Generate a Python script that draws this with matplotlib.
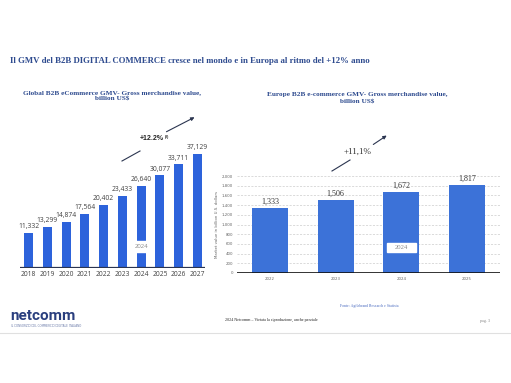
import matplotlib.pyplot as plt
from matplotlib.lines import Line2D
from matplotlib.patches import Rectangle, FancyArrowPatch

W, H = 511, 383

# global data
glob_years = ["2018", "2019", "2020", "2021", "2022", "2023", "2024", "2025", "2026", "2027"]
glob_vals = [11332, 13299, 14874, 17564, 20402, 23433, 26640, 30077, 33711, 37129]
glob_labels = ["11,332", "13,299", "14,874", "17,564", "20,402", "23,433", "26,640", "30,077", "33,711", "37,129"]

# europe data
eu_years = ["2022", "2023", "2024", "2025"]
eu_vals = [1333, 1506, 1672, 1817]
eu_labels = ["1,333", "1,506", "1,672", "1,817"]
eu_ticks = list(range(0, 2001, 200))

navy = "#2E4B8F"

def fx(px):
    return px / W

def fy(py):
    return 1 - py / H

def arrow(x0, y0, x1, y1, x2, y2, x3, y3):
    # broken arrow: plain segment, gap for the label, then arrowhead segment
    fig.add_artist(Line2D([fx(x0), fx(x1)], [fy(y0), fy(y1)], color="#2B3550", lw=0.8))
    fig.add_artist(FancyArrowPatch((fx(x2), fy(y2)), (fx(x3), fy(y3)), transform=fig.transFigure,
                                   arrowstyle="-|>", color="#2B3550", lw=0.8, mutation_scale=5))

fig = plt.figure(figsize=(W / 100, H / 100), dpi=100)

fig.text(fx(10), fy(61), "Il GMV del B2B DIGITAL COMMERCE cresce nel mondo e in Europa al ritmo del +12% anno",
         family="Liberation Serif", weight="bold", fontsize=6.3, color=navy, va="center")

# left chart
ax1 = fig.add_axes([fx(20), fy(268), fx(205) - fx(20), fy(140) - fy(268)])
x1 = list(range(len(glob_vals)))
ax1.bar(x1, glob_vals, width=0.48, color="#2D63DB")
ax1.set_xlim(-0.45, 9.4)
ax1.set_ylim(0, 41600)
ax1.axhline(0, color="#2B3550", lw=1.6)
for i, (v, lab) in enumerate(zip(glob_vals, glob_labels)):
    ax1.text(i, v + 900, lab, ha="center", va="bottom", fontsize=4.9, color="#404040", family="Open Sans")
i24 = glob_years.index("2024")
ax1.add_patch(Rectangle((i24 - 0.3, 5200), 0.6, 3600, color="white", zorder=3))
ax1.text(i24, 7000, "2024", ha="center", va="center", fontsize=4.3, color="#8A8A8A", family="Open Sans", zorder=4)
ax1.set_xticks(x1)
ax1.set_xticklabels(glob_years, fontsize=4.8, color="#404040", family="Open Sans")
ax1.tick_params(axis="x", length=0, pad=2.5)
ax1.set_yticks([])
for s in ax1.spines.values():
    s.set_visible(False)

fig.text(fx(112), fy(96), "Global B2B eCommerce GMV- Gross merchandise value,\nbillion US$",
         family="Liberation Serif", weight="bold", fontsize=5.2, color=navy, ha="center", va="center",
         linespacing=1.5)

arrow(122, 161, 140, 151, 164, 133, 197, 116)
fig.text(fx(164), fy(139), "+12.2%", family="Liberation Sans", weight="bold", fontsize=5,
         color="#222222", ha="right", va="center")
fig.text(fx(164.5), fy(137.5), "(2)", family="Liberation Sans", weight="bold", fontsize=2.6,
         color="#222222", ha="left", va="center")

# right chart
ax2 = fig.add_axes([fx(237), fy(273), fx(500) - fx(237), fy(176) - fy(273)])
x2 = list(range(len(eu_vals)))
ax2.bar(x2, eu_vals, width=0.55, color="#3C72D8", zorder=2)
ax2.set_xlim(-0.5, 3.5)
ax2.set_ylim(0, 2000)
ax2.set_yticks(eu_ticks)
ax2.set_yticklabels([f"{t:,}" for t in eu_ticks], fontsize=2.8, color="#666666")
ax2.grid(axis="y", color="#CCCCCC", lw=0.5, ls=(0, (3, 2)), zorder=0)
ax2.axhline(0, color="#111111", lw=1.2, zorder=3)
ax2.set_xticks(x2)
ax2.set_xticklabels(eu_years, fontsize=2.8, color="#666666")
ax2.tick_params(length=0, pad=3)
ax2.set_ylabel("Market value in billion U.S. dollars", fontsize=2.8, color="#666666", labelpad=2)
for s in ax2.spines.values():
    s.set_visible(False)
for i, (v, lab) in enumerate(zip(eu_vals, eu_labels)):
    ax2.text(i, v + 50, lab, ha="center", va="bottom", fontsize=5.8, color="#333333", family="Liberation Serif")
e24 = eu_years.index("2024")
ax2.add_patch(Rectangle((e24 - 0.22, 430), 0.44, 190, color="white", zorder=3))
ax2.text(e24, 525, "2024", ha="center", va="center", fontsize=4.8, color="#8A8A8A", family="Liberation Serif", zorder=4)

fig.text(fx(357), fy(98), "Europe B2B e-commerce GMV- Gross merchandise value,\nbillion US$",
         family="Liberation Serif", weight="bold", fontsize=5.2, color=navy, ha="center", va="center",
         linespacing=1.5)

arrow(332, 171, 350, 160, 371, 146, 389, 134)
fig.text(fx(358), fy(152), "+11,1%", family="Liberation Serif", fontsize=6.5, color="#333333",
         ha="center", va="center")

# footer
fig.text(fx(369), fy(306), "Fonte: Agilebrand Research e Statista", family="Liberation Serif", fontsize=2.8,
         color="#4A6BC0", ha="center", va="center")
fig.text(fx(225), fy(320), "2024 Netcomm \u2013 Vietata la riproduzione, anche parziale", family="Liberation Serif",
         fontsize=3, color="#222222", va="center")
fig.text(fx(480), fy(321), "pag. 3", family="Liberation Serif", fontsize=3, color="#888888", va="center")
fig.text(fx(10), fy(316), "netcomm", family="Roboto", weight="bold", fontsize=11, color="#2A3F7E", va="center")
fig.text(fx(11), fy(326), "IL CONSORZIO DEL COMMERCIO DIGITALE ITALIANO", family="DejaVu Sans", fontsize=2,
         color="#6A7AA8", va="center")
fig.add_artist(Line2D([0, 1], [fy(333), fy(333)], color="#E0E0E0", lw=0.8))

fig.savefig("out.png", dpi=100)
